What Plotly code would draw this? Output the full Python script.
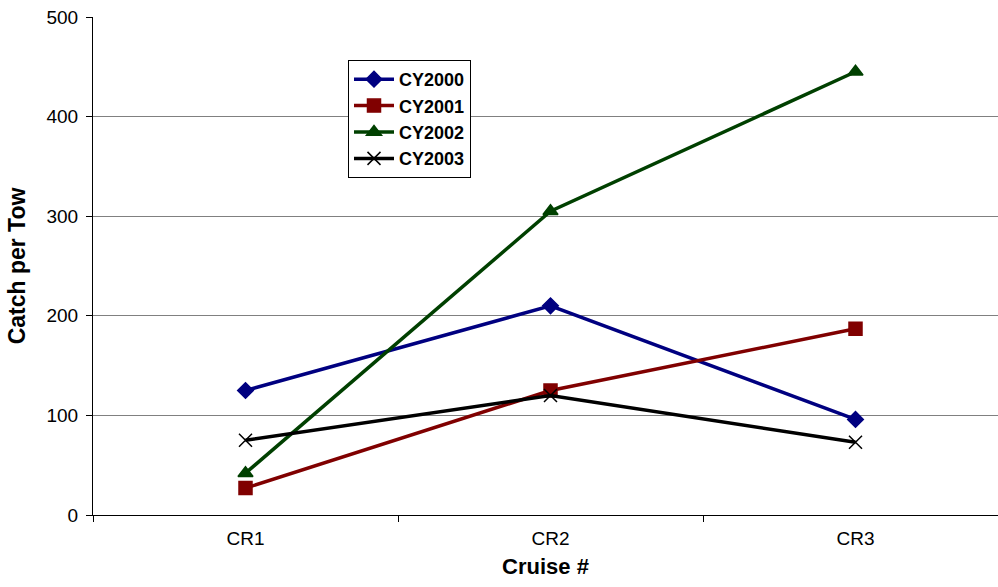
import plotly.graph_objects as go

categories = ["CR1", "CR2", "CR3"]
series_names = ["CY2000", "CY2001", "CY2002", "CY2003"]
cy2000 = [125, 210, 96]
cy2001 = [27, 125, 187]
cy2002 = [42, 305, 445]
cy2003 = [75, 120, 73]
y_ticks = [0, 100, 200, 300, 400, 500]

values = [cy2000, cy2001, cy2002, cy2003]
colors = ["#000080", "#800000", "#004000", "#000000"]
symbols = ["diamond", "square", "triangle-up", "x-thin"]
sizes = [12, 13, 13, 13]

fig = go.Figure()
for name, vals, c, s, sz in zip(series_names, values, colors, symbols, sizes):
    fig.add_trace(go.Scatter(
        x=categories, y=vals, name=name, mode="lines+markers",
        line=dict(color=c, width=3.5),
        marker=dict(symbol=s, size=sz, color=c, line=dict(color=c, width=1.5)),
    ))

fig.update_layout(
    width=998, height=587,
    margin=dict(l=93, r=0, t=17, b=72),
    plot_bgcolor="white", paper_bgcolor="white",
    font=dict(family="Liberation Sans, Arial", color="black", size=19),
    showlegend=True,
    legend=dict(
        x=(348 - 93) / 905, y=1 - (60 - 17) / 498, xanchor="left", yanchor="top",
        bgcolor="white", bordercolor="black", borderwidth=1,
        font=dict(size=18, family="Liberation Sans, Arial", color="black", weight="bold"),
        tracegroupgap=0, itemwidth=40,
    ),
    xaxis=dict(
        type="category",
        range=[-0.5, 2.5 - 10 / 305],
        showgrid=False, showline=True, linecolor="black", linewidth=1,
        ticks="outside", ticklen=6, tickcolor="black", tickson="boundaries",
        ticklabelstandoff=6,
        zeroline=False,
        title=dict(text="<b>Cruise #</b>", font=dict(size=22), standoff=10),
    ),
    yaxis=dict(
        range=[0, 500], tickvals=y_ticks,
        showgrid=True, gridcolor="#808080", gridwidth=1,
        showline=True, linecolor="black", linewidth=1,
        ticks="outside", ticklen=6, tickcolor="black",
        ticklabelstandoff=4,
        zeroline=False,
        title=dict(text="<b>Catch per Tow</b>", font=dict(size=23), standoff=14),
    ),
)

fig.write_html("out.html")
